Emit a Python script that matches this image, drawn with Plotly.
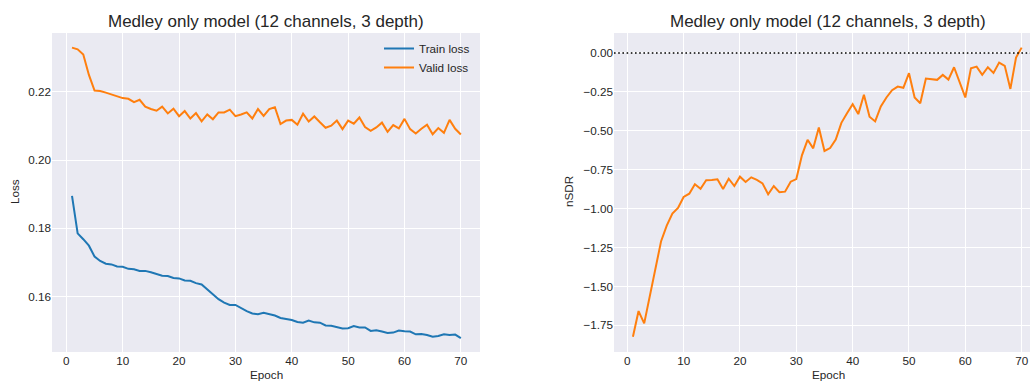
import plotly.graph_objects as go

epochs = list(range(1, 71))

train_loss = [
    0.1895, 0.1785, 0.1768, 0.1749, 0.1717, 0.1704, 0.1696, 0.1694, 0.1688, 0.1687,
    0.1681, 0.1680, 0.1675, 0.1675, 0.1671, 0.1667, 0.1661, 0.1660, 0.1654, 0.1653,
    0.1647, 0.1646, 0.1639, 0.1635, 0.1621, 0.1607, 0.1592, 0.1582, 0.1575, 0.1575,
    0.1565, 0.1557, 0.1550, 0.1548, 0.1552, 0.1548, 0.1544, 0.1537, 0.1535, 0.1531,
    0.1525, 0.1523, 0.1529, 0.1524, 0.1523, 0.1515, 0.1514, 0.1511, 0.1506, 0.1507,
    0.1513, 0.1509, 0.1509, 0.1499, 0.1501, 0.1497, 0.1493, 0.1494, 0.1500, 0.1498,
    0.1497, 0.1489, 0.1490, 0.1487, 0.1482, 0.1484, 0.1489, 0.1487, 0.1488, 0.1478,
]

valid_loss = [
    0.2330, 0.2325, 0.2310, 0.2250, 0.2204, 0.2203, 0.2198, 0.2193, 0.2189, 0.2182,
    0.2180, 0.2170, 0.2177, 0.2157, 0.2150, 0.2145, 0.2157, 0.2137, 0.2151, 0.2129,
    0.2144, 0.2122, 0.2138, 0.2114, 0.2134, 0.2120, 0.2140, 0.2140, 0.2148, 0.2129,
    0.2134, 0.2140, 0.2122, 0.2150, 0.2130, 0.2150, 0.2155, 0.2106, 0.2116, 0.2118,
    0.2104, 0.2136, 0.2113, 0.2128, 0.2111, 0.2095, 0.2101, 0.2116, 0.2091, 0.2116,
    0.2107, 0.2125, 0.2097, 0.2086, 0.2096, 0.2110, 0.2083, 0.2103, 0.2093, 0.2121,
    0.2091, 0.2078, 0.2092, 0.2104, 0.2076, 0.2094, 0.2080, 0.2118, 0.2092, 0.2075,
]

nsdr = [
    -1.823, -1.658, -1.737, -1.562, -1.370, -1.209, -1.109, -1.032, -0.996, -0.925,
    -0.904, -0.844, -0.872, -0.818, -0.816, -0.812, -0.874, -0.808, -0.855, -0.795,
    -0.829, -0.799, -0.816, -0.838, -0.908, -0.855, -0.895, -0.891, -0.827, -0.810,
    -0.658, -0.558, -0.613, -0.479, -0.630, -0.611, -0.556, -0.449, -0.387, -0.329,
    -0.393, -0.269, -0.410, -0.440, -0.344, -0.286, -0.239, -0.216, -0.224, -0.130,
    -0.286, -0.323, -0.165, -0.171, -0.173, -0.141, -0.171, -0.092, -0.190, -0.286,
    -0.098, -0.088, -0.141, -0.092, -0.128, -0.062, -0.083, -0.231, -0.030, 0.034,
]

x_ticks = [0, 10, 20, 30, 40, 50, 60, 70]
loss_ticks = [0.16, 0.18, 0.20, 0.22]
loss_tick_text = ["0.16", "0.18", "0.20", "0.22"]
nsdr_ticks = [0.0, -0.25, -0.5, -0.75, -1.0, -1.25, -1.5, -1.75]
nsdr_tick_text = ["0.00", "\u22120.25", "\u22120.50", "\u22120.75", "\u22121.00",
                  "\u22121.25", "\u22121.50", "\u22121.75"]

title_text = "Medley only model (12 channels, 3 depth)"

W, H = 1030, 381
FONT = "Liberation Sans, Arial, sans-serif"
TXT = "#262626"
BLUE = "#1f77b4"
ORANGE = "#ff7f0e"

fig = go.Figure()
fig.add_trace(go.Scatter(x=epochs, y=train_loss, mode="lines", name="Train loss",
                         line=dict(color=BLUE, width=2), xaxis="x", yaxis="y"))
fig.add_trace(go.Scatter(x=epochs, y=valid_loss, mode="lines", name="Valid loss",
                         line=dict(color=ORANGE, width=2), xaxis="x", yaxis="y"))
fig.add_trace(go.Scatter(x=epochs, y=nsdr, mode="lines", name="nSDR",
                         line=dict(color=ORANGE, width=2), xaxis="x2", yaxis="y2",
                         showlegend=False))

ax_common = dict(showgrid=True, gridcolor="white", gridwidth=1.3, zeroline=False,
                 showline=False, ticks="", tickfont=dict(size=11.7, color=TXT, family=FONT))

ydom = [29 / H, 1 - 33 / H]
fig.update_layout(
    width=W, height=H,
    margin=dict(l=0, r=0, t=0, b=0),
    paper_bgcolor="white",
    plot_bgcolor="#EAEAF2",
    font=dict(family=FONT, color=TXT, size=11.7),
    xaxis=dict(domain=[52 / W, 480 / W], range=[-2.55, 73.4], tickvals=x_ticks,
               anchor="y", **ax_common),
    yaxis=dict(domain=ydom, range=[0.1437, 0.2373], tickvals=loss_ticks,
               ticktext=loss_tick_text, anchor="x", **ax_common),
    xaxis2=dict(domain=[614 / W, 1.0], range=[-2.36, 71.48], tickvals=x_ticks,
                anchor="y2", **ax_common),
    yaxis2=dict(domain=ydom, range=[-1.921, 0.128], tickvals=nsdr_ticks,
                ticktext=nsdr_tick_text, anchor="x2", **ax_common),
    showlegend=True,
    legend=dict(x=379 / W, y=1 - 34 / H, xanchor="left", yanchor="top",
                bgcolor="rgba(0,0,0,0)", font=dict(size=11.7, color=TXT, family=FONT)),
)

fig.add_shape(type="line", xref="x2 domain", yref="y2", x0=0, x1=1, y0=0, y1=0,
              line=dict(color="black", width=1.6, dash="1.6px,2.6px"))

ann = [
    dict(text=title_text, x=266 / W, y=1 - 21 / H, font=dict(size=17, color=TXT)),
    dict(text=title_text, x=828 / W, y=1 - 21 / H, font=dict(size=17, color=TXT)),
    dict(text="Epoch", x=266 / W, y=1 - 374 / H, font=dict(size=11.7, color=TXT)),
    dict(text="Epoch", x=828 / W, y=1 - 374 / H, font=dict(size=11.7, color=TXT)),
    dict(text="Loss", x=14 / W, y=1 - 192 / H, textangle=-90, font=dict(size=11.7, color=TXT)),
    dict(text="nSDR", x=568 / W, y=1 - 192 / H, textangle=-90, font=dict(size=11.7, color=TXT)),
]
for a in ann:
    fig.add_annotation(xref="paper", yref="paper", xanchor="center", yanchor="middle",
                       showarrow=False, **a)

fig.write_html("out.html")
